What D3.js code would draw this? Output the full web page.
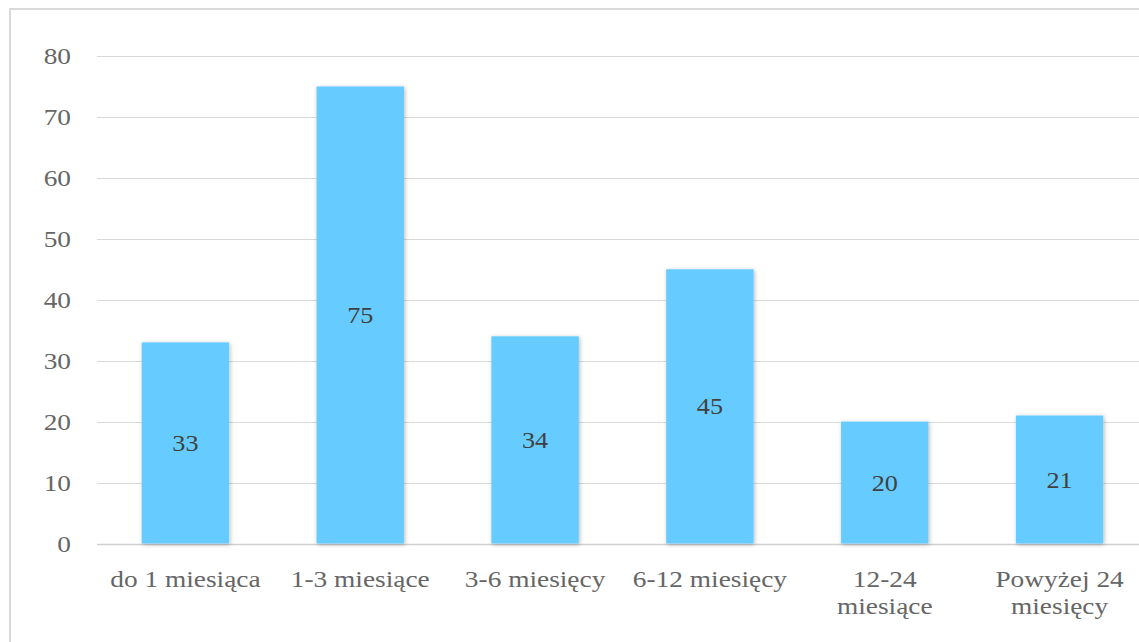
<!DOCTYPE html>
<html>
<head>
<meta charset="utf-8">
<script src="https://cdn.jsdelivr.net/npm/d3@7"></script>
<style>
  html, body { margin: 0; padding: 0; background: #fff; overflow: hidden; }
  svg { display: block; }
  text { font-family: "Liberation Serif", "Times New Roman", serif; }
</style>
</head>
<body>
<div class="chart"></div>
<script>
"use strict";
// categories (\n = line break as in the original)
const categories = ["do 1 miesiąca", "1-3 miesiące", "3-6 miesięcy", "6-12 miesięcy", "12-24\nmiesiące", "Powyżej 24\nmiesięcy"];
const values = [33, 75, 34, 45, 20, 21];
const yTicks = [0, 10, 20, 30, 40, 50, 60, 70, 80];

const W = 1139, H = 642;
const stretch = 1.14; // text in the picture is slightly wider than normal

const svg = d3.select(".chart").append("svg")
    .attr("width", W)
    .attr("height", H);

// soft shadow round the bars
const defs = svg.append("defs");
const f = defs.append("filter").attr("id", "shadow")
    .attr("x", "-20%").attr("y", "-10%").attr("width", "140%").attr("height", "130%");
f.append("feDropShadow")
    .attr("dx", 1).attr("dy", 1).attr("stdDeviation", 2)
    .attr("flood-color", "#000").attr("flood-opacity", 0.28);

// outer frame (cut off at right and bottom)
svg.append("rect")
    .attr("x", 10).attr("y", 9)
    .attr("width", 1300).attr("height", 800)
    .attr("fill", "none")
    .attr("stroke", "#d9d9d9")
    .attr("stroke-width", 2);

let x = d3.scaleBand()
    .domain(categories)
    .range([98, 1147])
    .paddingInner(0.5)
    .paddingOuter(0.25);

let y = d3.scaleLinear()
    .domain([0, 80])
    .range([543.5, 56]);

// gridlines
svg.append("g")
    .selectAll("line")
    .data(yTicks)
    .join("line")
    .attr("x1", 97)
    .attr("x2", 1147)
    .attr("y1", d => Math.round(y(d)) + 0.5)
    .attr("y2", d => Math.round(y(d)) + 0.5)
    .attr("stroke", d => d === 0 ? "#d0d0d0" : "#d9d9d9")
    .attr("stroke-width", d => d === 0 ? 1.5 : 1);

// y tick labels
svg.append("g")
    .selectAll("text")
    .data(yTicks)
    .join("text")
    .attr("transform", d => "translate(71," + (y(d) + 8) + ") scale(" + stretch + ",1)")
    .attr("text-anchor", "end")
    .attr("font-size", 24)
    .attr("fill", "#666666")
    .text(d => d);

// bars
svg.append("g")
    .selectAll("rect")
    .data(values)
    .join("rect")
    .attr("x", (d, i) => x(categories[i]))
    .attr("y", d => y(d))
    .attr("width", x.bandwidth())
    .attr("height", d => y(0) - y(d))
    .attr("fill", "#66ccff")
    .attr("filter", "url(#shadow)");

// value labels in the middle of each bar
svg.append("g")
    .selectAll("text")
    .data(values)
    .join("text")
    .attr("transform", (d, i) => "translate(" + (x(categories[i]) + x.bandwidth() / 2) + "," + ((y(d) + y(0)) / 2 + 8) + ") scale(" + stretch + ",1)")
    .attr("text-anchor", "middle")
    .attr("font-size", 23)
    .attr("fill", "#404040")
    .text(d => d);

// category labels
const cat = svg.append("g")
    .selectAll("g")
    .data(categories)
    .join("g")
    .attr("transform", d => "translate(" + (x(d) + x.bandwidth() / 2) + ",587) scale(" + stretch + ",1)");

cat.selectAll("text")
    .data(d => d.split("\n"))
    .join("text")
    .attr("y", (d, i) => i * 27)
    .attr("text-anchor", "middle")
    .attr("font-size", 24)
    .attr("fill", "#666666")
    .text(d => d);
</script>
</body>
</html>
